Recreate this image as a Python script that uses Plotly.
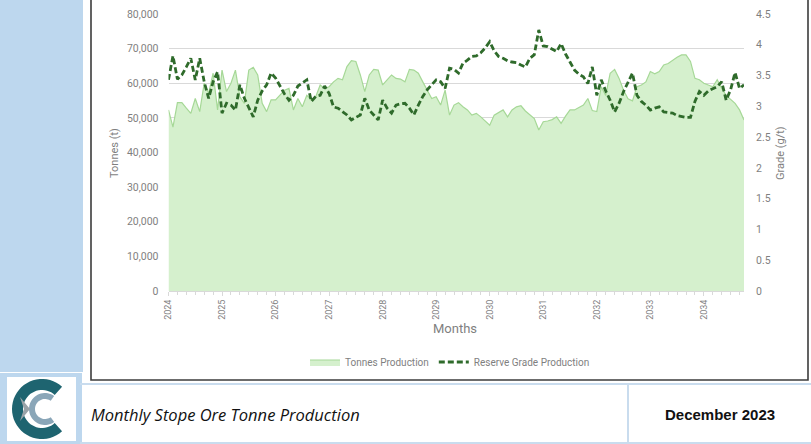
import math
import plotly.graph_objects as go

W, H = 811, 444

# ---------------- data ----------------
years = ["2024", "2025", "2026", "2027", "2028", "2029", "2030", "2031", "2032", "2033", "2034"]

tonnes = [
    52300, 47300, 54400, 54400, 52800, 51300, 55600, 51800, 60000, 57100, 62900, 52300,
    63800, 57600, 60000, 63800, 56100, 54200, 63800, 64600, 62400, 54200, 51800, 55200,
    55200, 56500, 58000, 58500, 52300, 55600, 53200, 56500, 55200, 56100, 59500, 58500,
    59000, 60400, 61400, 61000, 64800, 66500, 66300, 62400, 57600, 62400, 64000, 63800,
    59500, 61000, 62400, 61400, 61200, 60400, 64000, 63800, 62900, 60400, 58000, 55600,
    56100, 53700, 58000, 50800, 53700, 54400, 53200, 52300, 50800, 51300, 50300, 49000,
    47900, 50800, 51600, 52300, 50300, 52300, 53200, 53500, 52000, 50800, 49800, 46500,
    48900, 49100, 49500, 50300, 48400, 50500, 52300, 52300, 53000, 53700, 55600, 52100,
    51800, 59000, 56500, 62900, 64000, 61400, 58000, 55500, 54900, 59000, 59500, 60400,
    63400, 62700, 63400, 65300, 65700, 66700, 67500, 68200, 68200, 66300, 61400, 61000,
    60000, 59500, 59000, 61000, 58500, 56500, 55400, 54200, 52300, 49400,
]

grade = [
    3.43, 3.82, 3.44, 3.51, 3.64, 3.78, 3.43, 3.78, 3.40, 3.13, 3.40, 3.56,
    2.89, 3.05, 3.02, 2.94, 3.35, 3.13, 2.98, 2.83, 3.10, 3.25, 3.35, 3.54,
    3.46, 3.33, 3.20, 3.10, 3.18, 3.33, 3.38, 3.43, 3.08, 3.16, 3.18, 3.33,
    3.21, 2.99, 2.97, 2.92, 2.86, 2.78, 2.82, 2.86, 3.13, 2.94, 2.86, 2.78,
    3.10, 2.97, 2.89, 3.02, 3.04, 3.05, 2.97, 2.86, 3.02, 3.16, 3.27, 3.35,
    3.43, 3.40, 3.29, 3.62, 3.60, 3.54, 3.70, 3.75, 3.81, 3.82, 3.87, 3.95,
    4.05, 3.90, 3.81, 3.78, 3.74, 3.72, 3.71, 3.67, 3.64, 3.78, 3.84, 4.24,
    3.98, 3.97, 3.93, 3.89, 4.02, 3.85, 3.72, 3.59, 3.52, 3.48, 3.37, 3.64,
    3.18, 3.43, 3.25, 3.10, 2.91, 3.05, 3.24, 3.40, 3.54, 3.18, 3.08, 3.02,
    2.94, 2.97, 2.99, 2.91, 2.90, 2.89, 2.85, 2.83, 2.82, 2.82, 3.08, 3.24,
    3.18, 3.25, 3.29, 3.32, 3.40, 3.10, 3.27, 3.55, 3.29, 3.35,
]

months = list(range(len(tonnes)))
year_ticks = [12 * k for k in range(len(years))]

# ---------------- helpers (pixel -> paper) ----------------
def px(x):
    return x / W


def py(y):
    return 1 - y / H


def rect(x0, y0, x1, y1, fill=None, line=None, lw=0):
    return dict(type="rect", xref="paper", yref="paper",
                x0=px(x0), x1=px(x1), y0=py(y1), y1=py(y0),
                fillcolor=fill if fill else "rgba(0,0,0,0)",
                line=dict(color=line if line else "rgba(0,0,0,0)", width=lw),
                layer="below")


def hline(x0, x1, y, color, lw):
    return dict(type="line", xref="paper", yref="paper",
                x0=px(x0), x1=px(x1), y0=py(y), y1=py(y),
                line=dict(color=color, width=lw))


def vline(x, y0, y1, color, lw):
    return dict(type="line", xref="paper", yref="paper",
                x0=px(x), x1=px(x), y0=py(y0), y1=py(y1),
                line=dict(color=color, width=lw))


def ring_path(cx, cy, r_out, r_in, a0, a1, n=40):
    pts = []
    for k in range(n + 1):
        a = math.radians(a0 + (a1 - a0) * k / n)
        pts.append((cx + r_out * math.cos(a), cy - r_out * math.sin(a)))
    for k in range(n + 1):
        a = math.radians(a1 - (a1 - a0) * k / n)
        pts.append((cx + r_in * math.cos(a), cy - r_in * math.sin(a)))
    d = "M " + " L ".join(f"{px(x):.5f},{py(y):.5f}" for x, y in pts) + " Z"
    return d


def poly_path(points):
    return "M " + " L ".join(f"{px(x):.5f},{py(y):.5f}" for x, y in points) + " Z"


# ---------------- figure ----------------
fig = go.Figure()

fig.add_trace(go.Scatter(
    x=months, y=tonnes, name="Tonnes Production", mode="lines",
    fill="tozeroy", fillcolor="#d5f0cd",
    line=dict(color="#a6d897", width=1.2),
    hoverinfo="skip",
))
fig.add_trace(go.Scatter(
    x=months, y=grade, name="Reserve Grade Production", mode="lines",
    yaxis="y2",
    line=dict(color="#2f6b2b", width=2.8, dash="6px,3px"),
    hoverinfo="skip",
))

tick_font = dict(family="Roboto, Arial, sans-serif", size=10.5, color="#7f7f7f")

shapes = [
    # left sidebar
    rect(0, 0, 83, 372, fill="#bdd7ee"),
    # chart frame
    dict(type="rect", xref="paper", yref="paper",
         x0=px(91), x1=px(808), y0=py(380), y1=py(-3),
         fillcolor="rgba(0,0,0,0)", line=dict(color="#3c3c3c", width=1.6)),
    # footer lines
    hline(80, 811, 384, "#c9dcee", 2),
    hline(80, 811, 443, "#c9dcee", 2),
    vline(628, 384, 444, "#c9dcee", 2),
    # logo cell
    rect(0, 373, 82, 444, fill="#bdd7ee"),
    rect(7, 377, 76, 441, fill="#ffffff"),
]

# logo
logo_cx, logo_cy = 42, 409
shapes.append(dict(type="path", xref="paper", yref="paper",
                   path=ring_path(logo_cx, logo_cy, 30, 19, 48, 312),
                   fillcolor="#1e6470", line=dict(width=0)))
shapes.append(dict(type="path", xref="paper", yref="paper",
                   path=ring_path(logo_cx + 3, logo_cy, 16, 10, 55, 305),
                   fillcolor="#8aa6b8", line=dict(width=0)))
shapes.append(dict(type="path", xref="paper", yref="paper",
                   path=poly_path([(20, 397), (30, 409), (20, 421), (24, 409)]),
                   fillcolor="#9aa3a8", line=dict(width=0)))

fig.update_layout(
    width=W, height=H,
    margin=dict(l=0, r=0, t=0, b=0, autoexpand=False),
    paper_bgcolor="#ffffff",
    plot_bgcolor="#ffffff",
    showlegend=True,
    legend=dict(orientation="h", x=px(450), y=py(362), xanchor="center", yanchor="middle",
                font=dict(family="Roboto, Arial, sans-serif", size=10, color="#7f7f7f"),
                bgcolor="rgba(0,0,0,0)", itemwidth=30, tracegroupgap=0),
    xaxis=dict(
        domain=[px(168.5), px(744)],
        range=[0, len(months) - 1],
        tickmode="array", tickvals=year_ticks, ticktext=years,
        tickangle=-90, tickfont=dict(family="Roboto, Arial, sans-serif", size=9, color="#7f7f7f"),
        ticks="outside", ticklen=4, tickcolor="#d9d9d9",
        minor=dict(dtick=2, tick0=0, ticks="outside", ticklen=3, tickcolor="#d9d9d9", showgrid=False),
        showgrid=False, zeroline=False,
        showline=True, linecolor="#d9d9d9", linewidth=1,
    ),
    yaxis=dict(
        domain=[py(291), py(14)],
        range=[0, 80000], dtick=10000, tickformat=",",
        tickfont=tick_font,
        showgrid=True, gridcolor="#d9d9d9", gridwidth=1,
        zeroline=False, showline=False,
        ticks="", ticklabelstandoff=9,
    ),
    yaxis2=dict(
        overlaying="y", side="right",
        range=[0, 4.5], dtick=0.5,
        tickfont=tick_font,
        showgrid=False, zeroline=False, showline=False,
        ticks="", ticklabelstandoff=11,
    ),
    shapes=shapes,
    annotations=[
        dict(text="Tonnes (t)", xref="paper", yref="paper", x=px(115), y=py(153),
             textangle=-90, showarrow=False, xanchor="center", yanchor="middle",
             font=dict(family="Roboto, Arial, sans-serif", size=11, color="#7f7f7f")),
        dict(text="Grade (g/t)", xref="paper", yref="paper", x=px(781), y=py(153),
             textangle=-90, showarrow=False, xanchor="center", yanchor="middle",
             font=dict(family="Roboto, Arial, sans-serif", size=11, color="#7f7f7f")),
        dict(text="Months", xref="paper", yref="paper", x=px(455), y=py(328),
             showarrow=False, xanchor="center", yanchor="middle",
             font=dict(family="Roboto, Arial, sans-serif", size=13, color="#7f7f7f")),
        dict(text="<i>Monthly Stope Ore Tonne Production</i>", xref="paper", yref="paper",
             x=px(89), y=py(414), showarrow=False, xanchor="left", yanchor="middle",
             font=dict(family="Open Sans, Arial, sans-serif", size=16.5, color="#111111")),
        dict(text="<b>December 2023</b>", xref="paper", yref="paper",
             x=px(720), y=py(414), showarrow=False, xanchor="center", yanchor="middle",
             font=dict(family="Liberation Sans, Arial, sans-serif", size=15, color="#111111")),
    ],
)

fig.write_html(
    "out.html",
    config={"displayModeBar": False},
    post_script="document.body.style.margin='0';document.body.style.overflow='hidden';",
)
